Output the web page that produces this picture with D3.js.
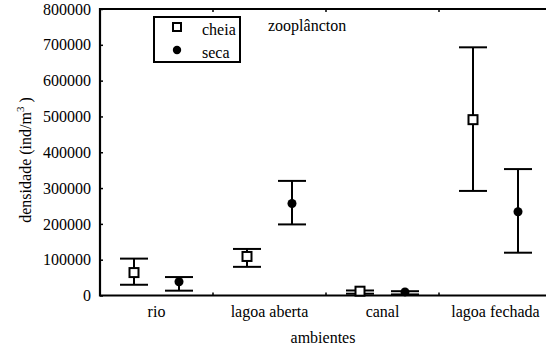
<!DOCTYPE html>
<html><head><meta charset="utf-8">
<script src="https://cdn.jsdelivr.net/npm/d3@7"></script>
</head><body style="margin:0">
<svg id="c" width="546" height="348" font-family="Liberation Serif"></svg>
<script>
const categories = ["rio", "lagoa aberta", "canal", "lagoa fechada"];
const seriesNames = ["cheia", "seca"];
const cheiaMean = [64000, 109000, 12000, 491000];
const cheiaLow  = [30000, 80000, 5000, 292000];
const cheiaHigh = [103000, 130000, 14000, 693000];
const secaMean  = [38500, 257000, 10000, 234000];
const secaLow   = [13500, 198500, 3000, 119500];
const secaHigh  = [51500, 320000, 12000, 353000];
const yTicks = [0, 100000, 200000, 300000, 400000, 500000, 600000, 700000, 800000];

const svg = d3.select("#c");
const L = 100, R = 552, T = 9, B = 295.5;
const x = d3.scaleBand().domain(categories).range([L, R]);
const xs = d3.scalePoint().domain(seriesNames).range([-22.5, 22.5]);
const y = d3.scaleLinear().domain([0, 800000]).range([B, T]);

const rows = [];
categories.forEach((c, i) => {
  rows.push({cat: c, s: "cheia", m: cheiaMean[i], lo: cheiaLow[i], hi: cheiaHigh[i]});
  rows.push({cat: c, s: "seca", m: secaMean[i], lo: secaLow[i], hi: secaHigh[i]});
});
const cx = d => x(d.cat) + x.bandwidth() / 2 + xs(d.s);
const txt = (sel) => sel.attr("font-family", "Liberation Serif").attr("font-size", 16)
  .style("font-family", "'Liberation Serif'").style("font-size", "16px").attr("fill", "#000");

const yAxis = d3.axisLeft(y).tickValues(yTicks).tickSize(-3).tickPadding(9).tickFormat(d3.format("d"));
const gy = svg.append("g").attr("transform", `translate(${L},0)`).call(yAxis)
  .attr("font-family", "Liberation Serif").attr("font-size", 16);
gy.select(".domain").remove();
gy.selectAll("line").attr("stroke", "#000").attr("stroke-width", 1.5);
txt(gy.selectAll("text"));

const xAxis = d3.axisBottom(x).tickSize(0).tickPadding(10);
const gx = svg.append("g").attr("transform", `translate(0,${B})`).call(xAxis)
  .attr("font-family", "Liberation Serif").attr("font-size", 16);
gx.select(".domain").remove();
txt(gx.selectAll("text"));

const bounds = categories.slice(1).map(c => x(c));
svg.selectAll(".bt").data(bounds).join("line")
  .attr("x1", d => d).attr("x2", d => d).attr("y1", B).attr("y2", B - 3)
  .attr("stroke", "#000").attr("stroke-width", 1.5);
svg.selectAll(".tt").data(bounds).join("line")
  .attr("x1", d => d).attr("x2", d => d).attr("y1", T).attr("y2", T + 3)
  .attr("stroke", "#000").attr("stroke-width", 1.5);

svg.append("path")
  .attr("d", `M${R},${T}H${L}V${B}H${R}`)
  .attr("fill", "none").attr("stroke", "#000").attr("stroke-width", 2.2);

const cap = 14;
const g = svg.append("g");
g.selectAll(".v").data(rows).join("line")
  .attr("x1", cx).attr("x2", cx).attr("y1", d => y(d.lo)).attr("y2", d => y(d.hi))
  .attr("stroke", "#000").attr("stroke-width", 2);
g.selectAll(".ch").data(rows).join("line")
  .attr("x1", d => cx(d) - cap).attr("x2", d => cx(d) + cap)
  .attr("y1", d => y(d.hi)).attr("y2", d => y(d.hi))
  .attr("stroke", "#000").attr("stroke-width", 2);
g.selectAll(".cl").data(rows).join("line")
  .attr("x1", d => cx(d) - cap).attr("x2", d => cx(d) + cap)
  .attr("y1", d => y(d.lo)).attr("y2", d => y(d.lo))
  .attr("stroke", "#000").attr("stroke-width", 2);

g.selectAll(".sq").data(rows.filter(d => d.s === "cheia")).join("rect")
  .attr("x", d => cx(d) - 4.5).attr("y", d => y(d.m) - 4.5)
  .attr("width", 9).attr("height", 9)
  .attr("fill", "#fff").attr("stroke", "#000").attr("stroke-width", 2);
g.selectAll(".ci").data(rows.filter(d => d.s === "seca")).join("circle")
  .attr("cx", cx).attr("cy", d => y(d.m)).attr("r", 4.5).attr("fill", "#000");

const lg = svg.append("g");
lg.append("rect").attr("x", 154).attr("y", 17).attr("width", 86).attr("height", 45)
  .attr("fill", "#fff").attr("stroke", "#000").attr("stroke-width", 2);
lg.append("rect").attr("x", 173).attr("y", 23).attr("width", 8).attr("height", 8)
  .attr("fill", "#fff").attr("stroke", "#000").attr("stroke-width", 2);
lg.append("circle").attr("cx", 177).attr("cy", 50).attr("r", 4.2).attr("fill", "#000");
txt(lg.append("text").attr("x", 202).attr("y", 35).text(seriesNames[0]));
txt(lg.append("text").attr("x", 202).attr("y", 58).text(seriesNames[1]));

txt(svg.append("text").attr("x", 268).attr("y", 31).text("zooplâncton"));

txt(svg.append("text").attr("x", (L + 546) / 2).attr("y", 343).attr("text-anchor", "middle")
  .text("ambientes"));
const yl = txt(svg.append("text").attr("transform", "translate(31,160) rotate(-90)")
  .attr("text-anchor", "middle"));
yl.append("tspan").text("densidade (ind/m");
yl.append("tspan").attr("dy", -7).attr("font-size", 11).style("font-size", "11px").text("3");
yl.append("tspan").attr("dy", 7).text(" )");
</script>
</body></html>
